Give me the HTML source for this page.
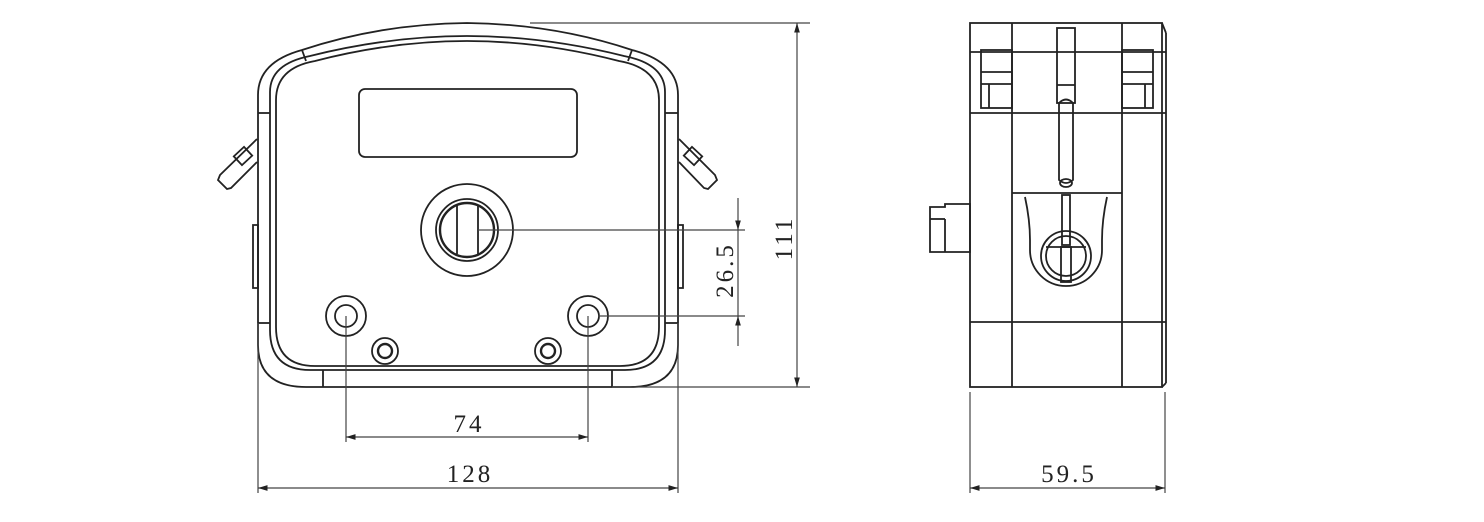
<!DOCTYPE html>
<html><head><style>
html,body{margin:0;padding:0;background:#fff;}
svg{display:block;}
text{font-family:"Liberation Serif",serif;fill:#222;font-size:25px;letter-spacing:3px;}
</style></head><body>
<svg width="1484" height="522" viewBox="0 0 1484 522" xmlns="http://www.w3.org/2000/svg">
<defs>
<marker id="a" viewBox="0 0 10 10" refX="10" refY="5" markerWidth="8" markerHeight="8" orient="auto-start-reverse"><path d="M0,2 L10,5 L0,8 z" fill="#222"/></marker>
</defs>
<g fill="none" stroke="#222" stroke-width="1.8">
<path d="M258,113 L258,95 Q258,62 302,50 Q380,24 467,23 Q554,24 632,50 Q678,62 678,95 L678,323 L678,345 Q678,387 630,387 L306,387 Q258,387 258,345 Z"/>
<path d="M270,113 L270,92 Q270,64 310,56 Q390,36 467,36 Q544,36 624,56 Q665,64 665,92 L665,330 Q665,370 625,370 L310,370 Q270,370 270,330 Z"/>
<path d="M276,100 Q276,68 315,61 Q392,41 467,41 Q542,41 619,61 Q659,68 659,100 L659,327 Q659,366 620,366 L315,366 Q276,366 276,327 Z"/>
<line x1="302" y1="50" x2="306" y2="61"/><line x1="632" y1="50" x2="628" y2="61"/>
<line x1="258" y1="113" x2="270" y2="113"/><line x1="665" y1="113" x2="678" y2="113"/>
<line x1="258" y1="323" x2="270" y2="323"/><line x1="665" y1="323" x2="678" y2="323"/>
<line x1="323" y1="370" x2="323" y2="387"/><line x1="612" y1="370" x2="612" y2="387"/>
<rect x="359" y="89" width="218" height="68" rx="6"/>
<circle cx="467" cy="230" r="46"/>
<circle cx="467" cy="230" r="31"/>
<circle cx="467" cy="230" r="27" stroke-width="2.4"/>
<line x1="457" y1="205" x2="457" y2="254"/><line x1="478" y1="205" x2="478" y2="254"/>
<circle cx="346" cy="316" r="20"/><circle cx="346" cy="316" r="11"/>
<circle cx="588" cy="316" r="20"/><circle cx="588" cy="316" r="11"/>
<circle cx="385" cy="351" r="13"/><circle cx="385" cy="351" r="7" stroke-width="2.4"/>
<circle cx="548" cy="351" r="13"/><circle cx="548" cy="351" r="7" stroke-width="2.4"/>
<path d="M253,225 L258,225 L258,288 L253,288 Z"/>
<path d="M683,225 L678,225 L678,288 L683,288 Z"/>
<path d="M257,139 L220,175 L218,180 L227,189 L231,188 L257,162"/>
<rect x="236" y="150" width="14" height="12" transform="rotate(-43 243 156)"/>
<path d="M679,139 L715,175 L717,180 L708,189 L704,188 L679,162"/>
<rect x="686" y="150" width="14" height="12" transform="rotate(43 693 156)"/>
<rect x="970" y="23" width="192" height="364"/>
<line x1="1012" y1="23" x2="1012" y2="387"/><line x1="1122" y1="23" x2="1122" y2="387"/>
<line x1="1162" y1="23" x2="1166" y2="33"/><line x1="1166" y1="33" x2="1166" y2="383"/><line x1="1166" y1="383" x2="1162" y2="387"/>
<line x1="970" y1="52" x2="1166" y2="52"/>
<line x1="970" y1="113" x2="1166" y2="113"/>
<line x1="1012" y1="193" x2="1122" y2="193"/>
<line x1="970" y1="322" x2="1166" y2="322"/>
<rect x="981" y="50" width="31" height="58"/><line x1="981" y1="72" x2="1012" y2="72"/><line x1="981" y1="84" x2="1012" y2="84"/><line x1="989" y1="84" x2="989" y2="108"/>
<rect x="1122" y="50" width="31" height="58"/><line x1="1122" y1="72" x2="1153" y2="72"/><line x1="1122" y1="84" x2="1153" y2="84"/><line x1="1145" y1="84" x2="1145" y2="108"/>
<rect x="1057" y="28" width="18" height="75"/><line x1="1057" y1="85" x2="1075" y2="85"/>
<path d="M1059,103 Q1066,96 1073,103 L1073,180 Q1066,186 1059,180 Z"/>
<ellipse cx="1066" cy="183" rx="6" ry="4"/>
<path d="M1025,197 Q1030,220 1030,240 L1030,250 A36,36 0 0 0 1102,250 L1102,240 Q1102,220 1107,197"/>
<circle cx="1066" cy="256" r="25"/><circle cx="1066" cy="256" r="20"/>
<rect x="1062" y="195" width="8" height="50"/>
<line x1="1046" y1="247" x2="1086" y2="247"/>
<rect x="1061" y="247" width="10" height="35"/>
<path d="M930,207 L945,207 L945,204 L970,204 L970,252 L930,252 Z"/><line x1="945" y1="219" x2="945" y2="252"/><line x1="930" y1="219" x2="945" y2="219"/>
</g>
<g fill="none" stroke="#444" stroke-width="1.2">
<line x1="530" y1="23" x2="810" y2="23"/>
<line x1="612" y1="387" x2="810" y2="387"/>
<line x1="797" y1="23" x2="797" y2="387" marker-start="url(#a)" marker-end="url(#a)"/>
<line x1="478" y1="230" x2="745" y2="230"/>
<line x1="598" y1="316" x2="745" y2="316"/>
<line x1="738" y1="198" x2="738" y2="230" marker-end="url(#a)"/>
<line x1="738" y1="346" x2="738" y2="316" marker-end="url(#a)"/>
<line x1="738" y1="230" x2="738" y2="316"/>
<line x1="346" y1="316" x2="346" y2="442"/><line x1="588" y1="316" x2="588" y2="442"/>
<line x1="346" y1="437" x2="588" y2="437" marker-start="url(#a)" marker-end="url(#a)"/>
<line x1="258" y1="323" x2="258" y2="493"/><line x1="678" y1="323" x2="678" y2="493"/>
<line x1="258" y1="488" x2="678" y2="488" marker-start="url(#a)" marker-end="url(#a)"/>
<line x1="970" y1="392" x2="970" y2="493"/><line x1="1165" y1="392" x2="1165" y2="493"/>
<line x1="970" y1="488" x2="1165" y2="488" marker-start="url(#a)" marker-end="url(#a)"/>
</g>
<text x="469" y="432" text-anchor="middle">74</text>
<text x="470" y="482" text-anchor="middle">128</text>
<text x="1069" y="482" text-anchor="middle">59.5</text>
<text transform="translate(792,238) rotate(-90)" text-anchor="middle">111</text>
<text transform="translate(733,270) rotate(-90)" text-anchor="middle">26.5</text>
</svg>
</body></html>
